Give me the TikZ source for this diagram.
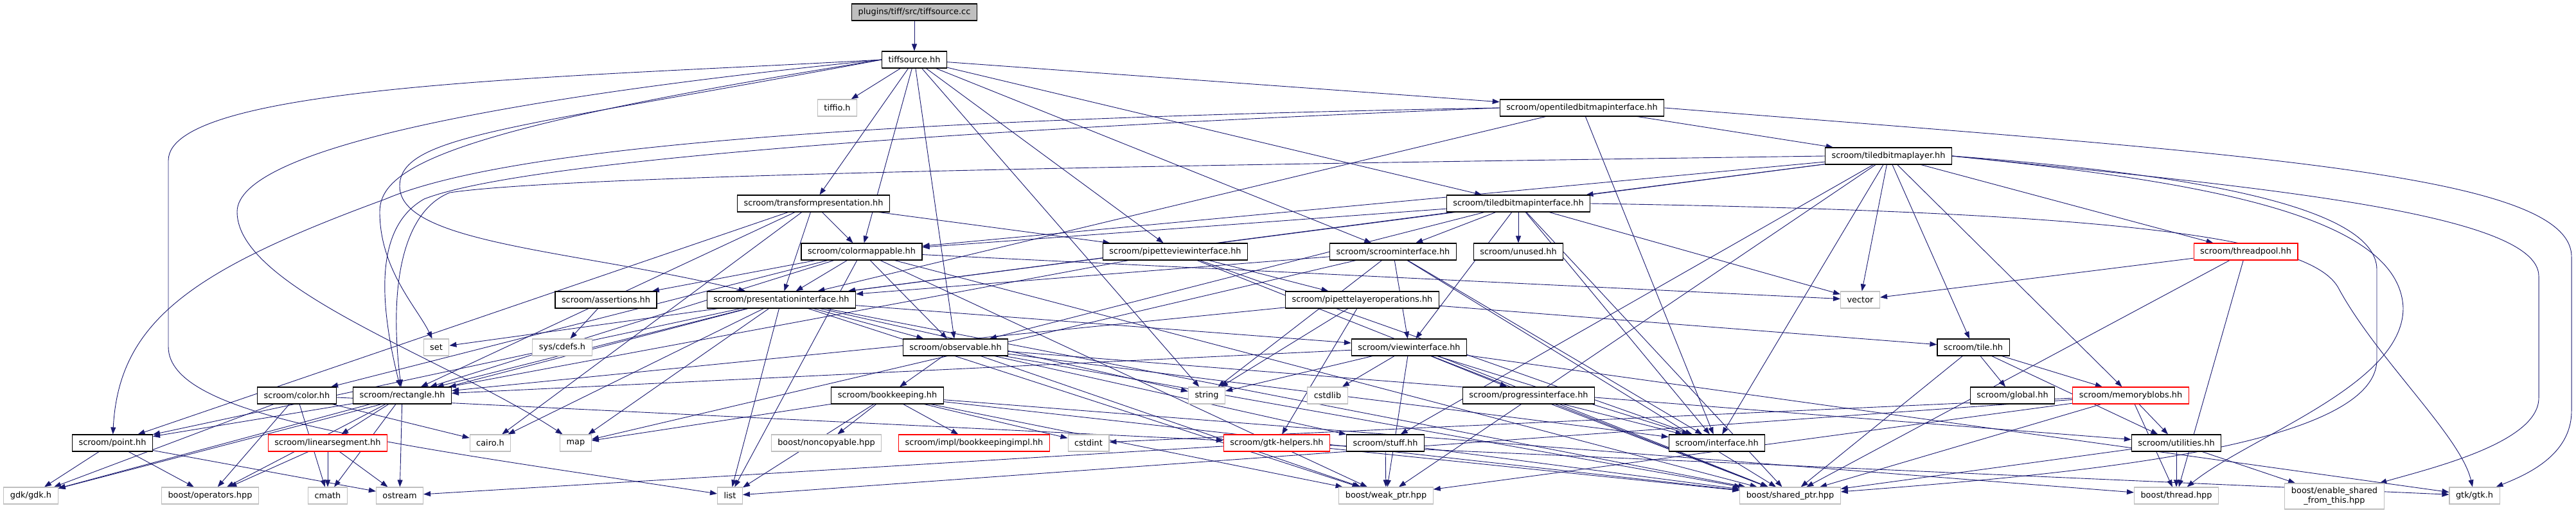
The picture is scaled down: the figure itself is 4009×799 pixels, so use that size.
\documentclass[tikz,border=0pt]{standalone}
\usepackage{fontspec}
\setmainfont{DejaVu Sans}
\usetikzlibrary{arrows.meta,backgrounds}
\definecolor{edgeblue}{HTML}{191970}
\definecolor{sysgray}{HTML}{BFBFBF}
\definecolor{cutred}{HTML}{FF0000}

\begin{document}
\begin{tikzpicture}[x=1pt,y=-1pt,
    hdr/.style={draw=black,fill=white,line width=1.1pt,minimum height=26pt,
      inner xsep=10pt,inner ysep=0pt,font=\fontsize{12.9}{15}\selectfont},
    sysh/.style={hdr,draw=sysgray},
    cuth/.style={hdr,draw=cutred},
    dep/.style={edgeblue,line width=0.9pt,-{Triangle[length=11pt,width=8pt]}}]
  \useasboundingbox (0,0) rectangle (4009,799);
  % top of the tree
  \node[hdr,fill=sysgray] (tiffcc) at (1423,19) {plugins/tiff/src/tiffsource.cc};
  \node[hdr] (tiffhh) at (1423,93) {tiffsource.hh};
  \node[sysh] (tiffio) at (1303,168) {tiffio.h};
  \node[hdr] (opentbi) at (2462,168) {scroom/opentiledbitmapinterface.hh};
  \node[hdr] (tblayer) at (2939,243) {scroom/tiledbitmaplayer.hh};
  \node[hdr] (transform) at (1266,317) {scroom/transformpresentation.hh};
  \node[hdr] (tbiface) at (2363,317) {scroom/tiledbitmapinterface.hh};
  % middle rows
  \node[hdr] (colormap) at (1341,392) {scroom/colormappable.hh};
  \node[hdr] (pipview) at (1829,392) {scroom/pipetteviewinterface.hh};
  \node[hdr] (scroomif) at (2168,392) {scroom/scroominterface.hh};
  \node[hdr] (unused) at (2363,392) {scroom/unused.hh};
  \node[cuth] (tpool) at (3495,392) {scroom/threadpool.hh};
  \node[hdr] (assert) at (943,467) {scroom/assertions.hh};
  \node[hdr] (presif) at (1216,467) {scroom/presentationinterface.hh};
  \node[hdr] (pipeops) at (2120,467) {scroom/pipettelayeroperations.hh};
  \node[sysh] (vector) at (2895,467) {vector};
  \node[sysh] (set) at (679,541) {set};
  \node[sysh] (cdefs) at (875,541) {sys/cdefs.h};
  \node[hdr] (observ) at (1487,541) {scroom/observable.hh};
  \node[hdr] (viewif) at (2193,541) {scroom/viewinterface.hh};
  \node[hdr] (tile) at (3071,541) {scroom/tile.hh};
  \node[hdr] (color) at (462,616) {scroom/color.hh};
  \node[hdr] (rect) at (626,616) {scroom/rectangle.hh};
  \node[hdr] (bookk) at (1381,616) {scroom/bookkeeping.hh};
  \node[sysh] (string) at (1878,616) {string};
  \node[sysh] (cstdlib) at (2066,616) {cstdlib};
  \node[hdr] (progif) at (2379,616) {scroom/progressinterface.hh};
  \node[hdr] (global) at (3132,616) {scroom/global.hh};
  \node[cuth] (memblobs) at (3316,616) {scroom/memoryblobs.hh};
  \node[hdr] (point) at (175,690) {scroom/point.hh};
  \node[cuth] (linseg) at (510,690) {scroom/linearsegment.hh};
  \node[sysh] (cairo) at (763,690) {cairo.h};
  \node[sysh] (map) at (896,690) {map};
  \node[sysh] (noncopy) at (1286,690) {boost/noncopyable.hpp};
  \node[cuth] (bookimpl) at (1516,690) {scroom/impl/bookkeepingimpl.hh};
  \node[sysh] (cstdint) at (1694,690) {cstdint};
  \node[cuth] (gtkhelp) at (1987,690) {scroom/gtk-helpers.hh};
  \node[hdr] (stuff) at (2156,690) {scroom/stuff.hh};
  \node[hdr] (iface) at (2672,690) {scroom/interface.hh};
  \node[hdr] (utils) at (3387,690) {scroom/utilities.hh};
  % system headers at the bottom
  \node[sysh] (gdk) at (48,772) {gdk/gdk.h};
  \node[sysh] (operators) at (327,772) {boost/operators.hpp};
  \node[sysh] (cmath) at (510,772) {cmath};
  \node[sysh] (ostream) at (622,772) {ostream};
  \node[sysh] (list) at (1136,772) {list};
  \node[sysh] (weakptr) at (2157,772) {boost/weak\_ptr.hpp};
  \node[sysh] (sharedptr) at (2786,772) {boost/shared\_ptr.hpp};
  \node[sysh] (thread) at (3387,772) {boost/thread.hpp};
  \node[sysh,align=center,minimum height=40pt] (enshared) at (3633,773) {boost/enable\_shared\\\_from\_this.hpp};
  \node[sysh] (gtk) at (3851,772) {gtk/gtk.h};

  \begin{scope}[on background layer]
    \draw[dep] (tiffcc) -- (tiffhh);
    \foreach \t in {tiffio,opentbi,transform,tbiface,scroomif,colormap,pipview,observ,string}
      \draw[dep] (tiffhh) -- (\t);
    % the long ways round on the left
    \draw[dep] (tiffhh.west) .. controls (900,120) and (262,130) .. (262,250) -- (262,540)
      .. controls (262,650) and (600,690) .. (list);
    \draw[dep] (tiffhh.west) .. controls (800,150) and (369,230) .. (369,330)
      .. controls (369,450) and (700,560) .. (map);
    \draw[dep] (tiffhh.west) .. controls (700,200) and (591,260) .. (591,330)
      .. controls (591,420) and (650,480) .. (set);
    \draw[dep] (tiffhh.west) .. controls (800,200) and (622,210) .. (622,290)
      .. controls (622,380) and (900,390) .. (presif);
    \draw[dep] (opentbi.west) .. controls (1400,185) and (800,225) .. (600,310)
      .. controls (300,420) and (185,500) .. (point);
    \draw[dep] (opentbi.west) .. controls (1400,205) and (800,255) .. (660,310)
      .. controls (590,350) and (585,450) .. (rect);
    \draw[dep] (tblayer.west) .. controls (2000,255) and (900,270) .. (700,300)
      .. controls (625,330) and (605,450) .. (rect);
    % the long ways round on the right
    \draw[dep] (opentbi.east) .. controls (3500,240) and (4002,270) .. (4002,400) -- (4002,640)
      .. controls (4002,710) and (3930,740) .. (gtk);
    \draw[dep] (tblayer.east) .. controls (3500,290) and (3951,330) .. (3951,430) -- (3951,620)
      .. controls (3951,690) and (3780,730) .. (enshared);
    \draw[dep] (tblayer.east) .. controls (3400,270) and (3699,320) .. (3699,420) -- (3699,560)
      .. controls (3699,700) and (3200,740) .. (sharedptr);
    \draw[dep] (tblayer.east) .. controls (3400,280) and (3735,330) .. (3740,480)
      .. controls (3740,600) and (3500,680) .. (thread);
    \draw[dep] (tbiface.east) .. controls (3300,330) and (3600,370) .. (3640,450)
      .. controls (3700,560) and (3830,680) .. (gtk);
    % straight dependencies
    \foreach \t in {tblayer,presif,iface}
      \draw[dep] (opentbi) -- (\t);
    \foreach \t in {tbiface,vector,tile,memblobs,tpool,stuff,colormap,presif,iface,weakptr}
      \draw[dep] (tblayer) -- (\t);
    \foreach \t in {colormap,presif,pipview,rect,point,cairo}
      \draw[dep] (transform) -- (\t);
    \foreach \t in {scroomif,unused,viewif,iface,sharedptr,vector,colormap,presif,observ}
      \draw[dep] (tbiface) -- (\t);
    \foreach \t in {vector,thread,sharedptr}
      \draw[dep] (tpool) -- (\t);
    \foreach \t in {observ,presif,color,assert,rect,vector,list,sharedptr,weakptr}
      \draw[dep] (colormap) -- (\t);
    \foreach \t in {pipeops,rect,iface,sharedptr}
      \draw[dep] (pipview) -- (\t);
    \foreach \t in {presif,viewif,string,iface,sharedptr,map}
      \draw[dep] (scroomif) -- (\t);
    \draw[dep] (assert) -- (cdefs);
    \foreach \t in {set,rect,cairo,list,observ,viewif,map,string,gdk,sharedptr,weakptr,point}
      \draw[dep] (presif) -- (\t);
    \foreach \t in {string,tile,rect,gtkhelp}
      \draw[dep] (pipeops) -- (\t);
    \foreach \t in {bookk,stuff,sharedptr,weakptr,iface,utils}
      \draw[dep] (observ) -- (\t);
    \foreach \t in {progif,iface,sharedptr,gtk,rect,string,cstdlib,weakptr}
      \draw[dep] (viewif) -- (\t);
    \foreach \t in {global,memblobs,sharedptr,utils}
      \draw[dep] (tile) -- (\t);
    \foreach \t in {gdk,operators,cmath,cairo,gtkhelp}
      \draw[dep] (color) -- (\t);
    \foreach \t in {point,linseg,ostream,operators,gdk,cmath}
      \draw[dep] (rect) -- (\t);
    \foreach \t in {map,list,noncopy,bookimpl,cstdint,sharedptr,weakptr,thread}
      \draw[dep] (bookk) -- (\t);
    \foreach \t in {iface,sharedptr}
      \draw[dep] (progif) -- (\t);
    \foreach \t in {utils,thread,sharedptr,cstdint,list,weakptr}
      \draw[dep] (memblobs) -- (\t);
    \foreach \t in {gdk,operators,ostream}
      \draw[dep] (point) -- (\t);
    \foreach \t in {operators,cmath,ostream}
      \draw[dep] (linseg) -- (\t);
    \foreach \t in {gtk,ostream,sharedptr}
      \draw[dep] (gtkhelp) -- (\t);
    \foreach \t in {weakptr,sharedptr}
      \draw[dep] (stuff) -- (\t);
    \foreach \t in {thread,enshared,sharedptr}
      \draw[dep] (utils) -- (\t);
  \end{scope}
\end{tikzpicture}
\end{document}
